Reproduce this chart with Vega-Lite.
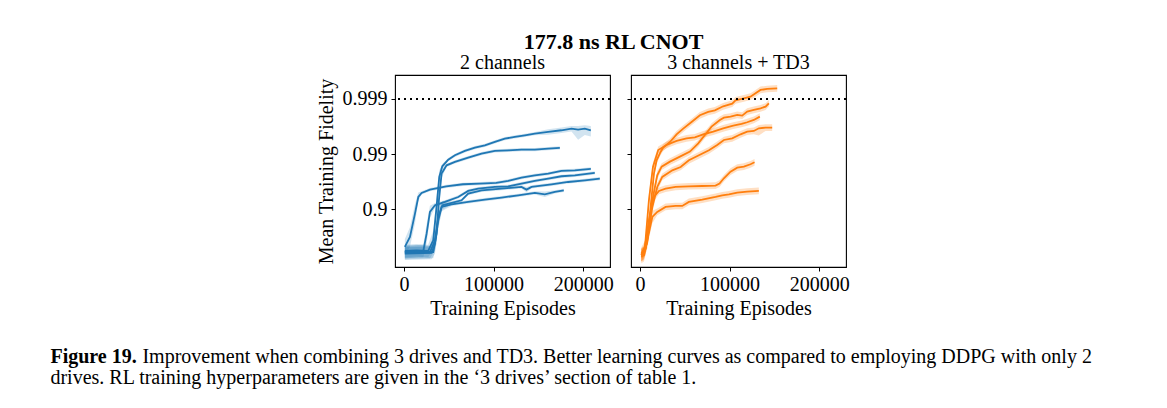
{
  "$schema": "https://vega.github.io/schema/vega-lite/v6.json",
  "background": "white",
  "padding": {"left": 50, "top": 30, "right": 5, "bottom": 5},
  "config": {
    "font": "Liberation Serif",
    "view": {"stroke": "#000000", "strokeWidth": 1.1},
    "axis": {"domain": false, "grid": false, "ticks": true, "tickColor": "#000000", "tickSize": 4, "tickWidth": 1, "labelColor": "#000000", "labelFontSize": 20, "titleFontSize": 20, "titleFontWeight": "normal", "titleColor": "#000000", "labelPadding": 3, "labelFlush": false, "labelOverlap": false, "labelBound": false},
    "title": {"fontWeight": "normal", "fontSize": 20, "color": "#000000", "font": "Liberation Serif"}
  },
  "datasets": {
    "blue": [
      {"run":"b1","ep":1000,"inf":0.569,"hi":0.74,"lo":0.438},
      {"run":"b1","ep":14000,"inf":0.553,"hi":0.719,"lo":0.425},
      {"run":"b1","ep":27000,"inf":0.569,"hi":0.74,"lo":0.438},
      {"run":"b1","ep":32700,"inf":0.364,"hi":0.546,"lo":0.243},
      {"run":"b1","ep":36400,"inf":0.0907,"hi":0.136,"lo":0.0605},
      {"run":"b1","ep":39400,"inf":0.0259,"hi":0.0337,"lo":0.0199},
      {"run":"b1","ep":42800,"inf":0.01663,"hi":0.0183,"lo":0.0151},
      {"run":"b1","ep":49400,"inf":0.0126,"hi":0.01348,"lo":0.01178},
      {"run":"b1","ep":56900,"inf":0.01051,"hi":0.01125,"lo":0.00982},
      {"run":"b1","ep":68000,"inf":0.00877,"hi":0.00938,"lo":0.0082},
      {"run":"b1","ep":79200,"inf":0.00763,"hi":0.00816,"lo":0.00713},
      {"run":"b1","ep":90300,"inf":0.00693,"hi":0.00742,"lo":0.00648},
      {"run":"b1","ep":101500,"inf":0.00603,"hi":0.00645,"lo":0.00564},
      {"run":"b1","ep":112600,"inf":0.00525,"hi":0.00562,"lo":0.00491},
      {"run":"b1","ep":123800,"inf":0.00489,"hi":0.00523,"lo":0.00457},
      {"run":"b1","ep":134900,"inf":0.00456,"hi":0.00488,"lo":0.00426},
      {"run":"b1","ep":146100,"inf":0.00426,"hi":0.00456,"lo":0.00398},
      {"run":"b1","ep":161000,"inf":0.00397,"hi":0.00445,"lo":0.00355},
      {"run":"b1","ep":175800,"inf":0.0037,"hi":0.00414,"lo":0.0033},
      {"run":"b1","ep":187000,"inf":0.00346,"hi":0.00388,"lo":0.00309},
      {"run":"b1","ep":194400,"inf":0.0036,"hi":0.0055,"lo":0.0031},
      {"run":"b1","ep":201900,"inf":0.00346,"hi":0.0045,"lo":0.003},
      {"run":"b1","ep":208600,"inf":0.0037,"hi":0.0048,"lo":0.0031},

      {"run":"b2","ep":1000,"inf":0.593,"hi":0.771,"lo":0.456},
      {"run":"b2","ep":16000,"inf":0.577,"hi":0.75,"lo":0.444},
      {"run":"b2","ep":32700,"inf":0.593,"hi":0.771,"lo":0.456},
      {"run":"b2","ep":36400,"inf":0.276,"hi":0.414,"lo":0.184},
      {"run":"b2","ep":39000,"inf":0.0687,"hi":0.103,"lo":0.0458},
      {"run":"b2","ep":42000,"inf":0.02258,"hi":0.0271,"lo":0.0188},
      {"run":"b2","ep":47600,"inf":0.01595,"hi":0.01707,"lo":0.01491},
      {"run":"b2","ep":56900,"inf":0.01388,"hi":0.01485,"lo":0.01297},
      {"run":"b2","ep":71700,"inf":0.01159,"hi":0.0124,"lo":0.01083},
      {"run":"b2","ep":86600,"inf":0.0098,"hi":0.01049,"lo":0.00916},
      {"run":"b2","ep":101500,"inf":0.00877,"hi":0.00938,"lo":0.0082},
      {"run":"b2","ep":116400,"inf":0.00853,"hi":0.00913,"lo":0.00797},
      {"run":"b2","ep":131200,"inf":0.0083,"hi":0.00888,"lo":0.00776},
      {"run":"b2","ep":146100,"inf":0.0083,"hi":0.00888,"lo":0.00776},
      {"run":"b2","ep":161000,"inf":0.00796,"hi":0.00852,"lo":0.00744},
      {"run":"b2","ep":174000,"inf":0.00774,"hi":0.00828,"lo":0.00723},

      {"run":"b3","ep":1000,"inf":0.481,"hi":0.673,"lo":0.344},
      {"run":"b3","ep":6700,"inf":0.317,"hi":0.476,"lo":0.211},
      {"run":"b3","ep":12300,"inf":0.1198,"hi":0.18,"lo":0.0799},
      {"run":"b3","ep":16000,"inf":0.0598,"hi":0.0718,"lo":0.0498},
      {"run":"b3","ep":19700,"inf":0.0506,"hi":0.0541,"lo":0.0473},
      {"run":"b3","ep":29000,"inf":0.044,"hi":0.0471,"lo":0.0411},
      {"run":"b3","ep":47200,"inf":0.0383,"hi":0.041,"lo":0.0358},
      {"run":"b3","ep":65800,"inf":0.0352,"hi":0.0377,"lo":0.0329},
      {"run":"b3","ep":84400,"inf":0.0343,"hi":0.0367,"lo":0.0321},
      {"run":"b3","ep":103000,"inf":0.0333,"hi":0.0356,"lo":0.0311},
      {"run":"b3","ep":116400,"inf":0.0307,"hi":0.0328,"lo":0.0287},
      {"run":"b3","ep":131200,"inf":0.0267,"hi":0.0286,"lo":0.025},
      {"run":"b3","ep":146100,"inf":0.0242,"hi":0.0259,"lo":0.0226},
      {"run":"b3","ep":161000,"inf":0.02258,"hi":0.02416,"lo":0.0211},
      {"run":"b3","ep":175800,"inf":0.0202,"hi":0.0216,"lo":0.0189},
      {"run":"b3","ep":190700,"inf":0.01965,"hi":0.02103,"lo":0.01836},
      {"run":"b3","ep":208600,"inf":0.0186,"hi":0.0199,"lo":0.01738},

      {"run":"b4","ep":1000,"inf":0.593,"hi":0.771,"lo":0.456},
      {"run":"b4","ep":21600,"inf":0.569,"hi":0.74,"lo":0.438},
      {"run":"b4","ep":25300,"inf":0.276,"hi":0.414,"lo":0.184},
      {"run":"b4","ep":29000,"inf":0.1117,"hi":0.145,"lo":0.0859},
      {"run":"b4","ep":34600,"inf":0.0846,"hi":0.0931,"lo":0.0769},
      {"run":"b4","ep":45700,"inf":0.0736,"hi":0.0788,"lo":0.0688},
      {"run":"b4","ep":60600,"inf":0.0598,"hi":0.064,"lo":0.0559},
      {"run":"b4","ep":71700,"inf":0.0465,"hi":0.0498,"lo":0.0435},
      {"run":"b4","ep":82900,"inf":0.0422,"hi":0.0452,"lo":0.0394},
      {"run":"b4","ep":101500,"inf":0.0394,"hi":0.0422,"lo":0.0368},
      {"run":"b4","ep":116400,"inf":0.0383,"hi":0.041,"lo":0.0358},
      {"run":"b4","ep":131200,"inf":0.0343,"hi":0.0367,"lo":0.0321},
      {"run":"b4","ep":146100,"inf":0.0307,"hi":0.0328,"lo":0.0287},
      {"run":"b4","ep":161000,"inf":0.0278,"hi":0.0297,"lo":0.026},
      {"run":"b4","ep":175800,"inf":0.0252,"hi":0.027,"lo":0.0236},
      {"run":"b4","ep":190700,"inf":0.0242,"hi":0.0259,"lo":0.0226},
      {"run":"b4","ep":213000,"inf":0.02197,"hi":0.02351,"lo":0.02053},

      {"run":"b5","ep":1000,"inf":0.618,"hi":0.803,"lo":0.475},
      {"run":"b5","ep":29000,"inf":0.601,"hi":0.781,"lo":0.462},
      {"run":"b5","ep":34600,"inf":0.364,"hi":0.546,"lo":0.243},
      {"run":"b5","ep":38300,"inf":0.1377,"hi":0.207,"lo":0.0918},
      {"run":"b5","ep":42800,"inf":0.0846,"hi":0.1015,"lo":0.0705},
      {"run":"b5","ep":53200,"inf":0.0768,"hi":0.0822,"lo":0.0718},
      {"run":"b5","ep":64300,"inf":0.0687,"hi":0.0735,"lo":0.0642},
      {"run":"b5","ep":71700,"inf":0.052,"hi":0.0556,"lo":0.0486},
      {"run":"b5","ep":86600,"inf":0.0453,"hi":0.0485,"lo":0.0423},
      {"run":"b5","ep":108900,"inf":0.0422,"hi":0.0452,"lo":0.0394},
      {"run":"b5","ep":131200,"inf":0.0394,"hi":0.0422,"lo":0.0368},
      {"run":"b5","ep":136800,"inf":0.044,"hi":0.0493,"lo":0.0393},
      {"run":"b5","ep":142400,"inf":0.0394,"hi":0.0422,"lo":0.0368},
      {"run":"b5","ep":164700,"inf":0.0352,"hi":0.0377,"lo":0.0329},
      {"run":"b5","ep":183300,"inf":0.032,"hi":0.0342,"lo":0.0299},
      {"run":"b5","ep":201900,"inf":0.0298,"hi":0.0319,"lo":0.0279},
      {"run":"b5","ep":218600,"inf":0.0278,"hi":0.0297,"lo":0.026},

      {"run":"b6","ep":1000,"inf":0.635,"hi":0.826,"lo":0.488},
      {"run":"b6","ep":30900,"inf":0.618,"hi":0.803,"lo":0.475},
      {"run":"b6","ep":34600,"inf":0.419,"hi":0.629,"lo":0.279},
      {"run":"b6","ep":38300,"inf":0.158,"hi":0.237,"lo":0.105},
      {"run":"b6","ep":42000,"inf":0.0907,"hi":0.1088,"lo":0.0756},
      {"run":"b6","ep":53200,"inf":0.0812,"hi":0.0869,"lo":0.0759},
      {"run":"b6","ep":71700,"inf":0.0736,"hi":0.0788,"lo":0.0688},
      {"run":"b6","ep":90300,"inf":0.0668,"hi":0.0715,"lo":0.0624},
      {"run":"b6","ep":108900,"inf":0.0615,"hi":0.0658,"lo":0.0575},
      {"run":"b6","ep":127500,"inf":0.0558,"hi":0.0597,"lo":0.0521},
      {"run":"b6","ep":146100,"inf":0.0506,"hi":0.0541,"lo":0.0473},
      {"run":"b6","ep":157300,"inf":0.0535,"hi":0.0599,"lo":0.0478},
      {"run":"b6","ep":168400,"inf":0.0485,"hi":0.0519,"lo":0.0453},
      {"run":"b6","ep":178400,"inf":0.0453,"hi":0.0485,"lo":0.0423}
    ],
    "orange": [
      {"run":"o1","ep":1500,"inf":0.681,"hi":0.885,"lo":0.524},
      {"run":"o1","ep":4500,"inf":0.593,"hi":0.771,"lo":0.456},
      {"run":"o1","ep":8200,"inf":0.3906,"hi":0.508,"lo":0.3},
      {"run":"o1","ep":11900,"inf":0.0907,"hi":0.118,"lo":0.0698},
      {"run":"o1","ep":15600,"inf":0.02258,"hi":0.0271,"lo":0.0188},
      {"run":"o1","ep":18600,"inf":0.01296,"hi":0.0149,"lo":0.01127},
      {"run":"o1","ep":23000,"inf":0.00915,"hi":0.01052,"lo":0.00796},
      {"run":"o1","ep":26000,"inf":0.00763,"hi":0.00877,"lo":0.00663},
      {"run":"o1","ep":33500,"inf":0.00603,"hi":0.00693,"lo":0.00524},
      {"run":"o1","ep":40900,"inf":0.00438,"hi":0.00504,"lo":0.00381},
      {"run":"o1","ep":48300,"inf":0.00346,"hi":0.00398,"lo":0.00301},
      {"run":"o1","ep":57600,"inf":0.00262,"hi":0.00301,"lo":0.00228},
      {"run":"o1","ep":66900,"inf":0.00198,"hi":0.00228,"lo":0.00172},
      {"run":"o1","ep":76200,"inf":0.001724,"hi":0.00198,"lo":0.0015},
      {"run":"o1","ep":83600,"inf":0.001609,"hi":0.00185,"lo":0.0014},
      {"run":"o1","ep":92900,"inf":0.001361,"hi":0.001565,"lo":0.001183},
      {"run":"o1","ep":103000,"inf":0.001218,"hi":0.0014,"lo":0.001059},
      {"run":"o1","ep":106700,"inf":0.00106,"hi":0.001219,"lo":0.000922},
      {"run":"o1","ep":116000,"inf":0.000975,"hi":0.001121,"lo":0.000848},
      {"run":"o1","ep":123400,"inf":0.00091,"hi":0.001047,"lo":0.000791},
      {"run":"o1","ep":129000,"inf":0.000791,"hi":0.00091,"lo":0.000688},
      {"run":"o1","ep":134600,"inf":0.000689,"hi":0.000792,"lo":0.000599},
      {"run":"o1","ep":142000,"inf":0.000661,"hi":0.00076,"lo":0.000575},
      {"run":"o1","ep":153200,"inf":0.000643,"hi":0.000739,"lo":0.000559},

      {"run":"o2","ep":1500,"inf":0.663,"hi":0.862,"lo":0.51},
      {"run":"o2","ep":4500,"inf":0.618,"hi":0.803,"lo":0.475},
      {"run":"o2","ep":9300,"inf":0.276,"hi":0.359,"lo":0.212},
      {"run":"o2","ep":13800,"inf":0.0687,"hi":0.0893,"lo":0.0528},
      {"run":"o2","ep":19300,"inf":0.0242,"hi":0.029,"lo":0.0202},
      {"run":"o2","ep":24200,"inf":0.01687,"hi":0.0194,"lo":0.01467},
      {"run":"o2","ep":33500,"inf":0.01369,"hi":0.01574,"lo":0.0119},
      {"run":"o2","ep":44600,"inf":0.01111,"hi":0.01278,"lo":0.00966},
      {"run":"o2","ep":55800,"inf":0.00902,"hi":0.01037,"lo":0.00784},
      {"run":"o2","ep":65100,"inf":0.00637,"hi":0.00733,"lo":0.00554},
      {"run":"o2","ep":72500,"inf":0.0045,"hi":0.00518,"lo":0.00391},
      {"run":"o2","ep":79900,"inf":0.00318,"hi":0.00366,"lo":0.00277},
      {"run":"o2","ep":89200,"inf":0.002407,"hi":0.00277,"lo":0.002093},
      {"run":"o2","ep":93700,"inf":0.002184,"hi":0.00251,"lo":0.0019},
      {"run":"o2","ep":101100,"inf":0.002095,"hi":0.00241,"lo":0.00182},
      {"run":"o2","ep":108600,"inf":0.001954,"hi":0.002247,"lo":0.001699},
      {"run":"o2","ep":114100,"inf":0.002009,"hi":0.00231,"lo":0.001747},
      {"run":"o2","ep":119700,"inf":0.0017,"hi":0.001955,"lo":0.001478},
      {"run":"o2","ep":127100,"inf":0.001587,"hi":0.001825,"lo":0.00138},
      {"run":"o2","ep":134600,"inf":0.00148,"hi":0.001702,"lo":0.001287},
      {"run":"o2","ep":140200,"inf":0.00138,"hi":0.001587,"lo":0.0012},
      {"run":"o2","ep":143900,"inf":0.0012,"hi":0.00138,"lo":0.001043},

      {"run":"o3","ep":1500,"inf":0.635,"hi":0.826,"lo":0.488},
      {"run":"o3","ep":5600,"inf":0.481,"hi":0.625,"lo":0.37},
      {"run":"o3","ep":10000,"inf":0.0687,"hi":0.0893,"lo":0.0528},
      {"run":"o3","ep":14500,"inf":0.0171,"hi":0.0205,"lo":0.01425},
      {"run":"o3","ep":20400,"inf":0.00842,"hi":0.00968,"lo":0.00732},
      {"run":"o3","ep":29700,"inf":0.00683,"hi":0.00785,"lo":0.00594},
      {"run":"o3","ep":40900,"inf":0.00578,"hi":0.00665,"lo":0.00503},
      {"run":"o3","ep":52000,"inf":0.00517,"hi":0.00595,"lo":0.0045},
      {"run":"o3","ep":61300,"inf":0.00496,"hi":0.0057,"lo":0.00431},
      {"run":"o3","ep":70600,"inf":0.00438,"hi":0.00504,"lo":0.00381},
      {"run":"o3","ep":81800,"inf":0.00392,"hi":0.00451,"lo":0.00341},
      {"run":"o3","ep":92900,"inf":0.00341,"hi":0.00392,"lo":0.00297},
      {"run":"o3","ep":104100,"inf":0.00305,"hi":0.00351,"lo":0.00265},
      {"run":"o3","ep":113400,"inf":0.00284,"hi":0.00327,"lo":0.00247},
      {"run":"o3","ep":119700,"inf":0.00265,"hi":0.00305,"lo":0.0023},
      {"run":"o3","ep":127100,"inf":0.002407,"hi":0.00277,"lo":0.002093},
      {"run":"o3","ep":133800,"inf":0.002095,"hi":0.00241,"lo":0.00182},

      {"run":"o4","ep":1500,"inf":0.681,"hi":0.885,"lo":0.524},
      {"run":"o4","ep":6300,"inf":0.516,"hi":0.671,"lo":0.397},
      {"run":"o4","ep":13800,"inf":0.0907,"hi":0.118,"lo":0.0698},
      {"run":"o4","ep":19300,"inf":0.0394,"hi":0.0473,"lo":0.0328},
      {"run":"o4","ep":24900,"inf":0.0259,"hi":0.0298,"lo":0.0225},
      {"run":"o4","ep":36100,"inf":0.01965,"hi":0.0226,"lo":0.01709},
      {"run":"o4","ep":45400,"inf":0.0171,"hi":0.01967,"lo":0.01487},
      {"run":"o4","ep":54600,"inf":0.01296,"hi":0.0149,"lo":0.01127},
      {"run":"o4","ep":65800,"inf":0.01051,"hi":0.01209,"lo":0.00914},
      {"run":"o4","ep":77000,"inf":0.00853,"hi":0.00981,"lo":0.00742},
      {"run":"o4","ep":86200,"inf":0.00683,"hi":0.00785,"lo":0.00594},
      {"run":"o4","ep":93700,"inf":0.00555,"hi":0.00638,"lo":0.00483},
      {"run":"o4","ep":103000,"inf":0.00517,"hi":0.00595,"lo":0.0045},
      {"run":"o4","ep":112300,"inf":0.00438,"hi":0.00504,"lo":0.00381},
      {"run":"o4","ep":119700,"inf":0.00392,"hi":0.00451,"lo":0.00341},
      {"run":"o4","ep":127100,"inf":0.00381,"hi":0.00438,"lo":0.00331},
      {"run":"o4","ep":132700,"inf":0.00341,"hi":0.0046,"lo":0.00297},
      {"run":"o4","ep":140200,"inf":0.00331,"hi":0.00381,"lo":0.00288},
      {"run":"o4","ep":147600,"inf":0.00331,"hi":0.00381,"lo":0.00288},

      {"run":"o5","ep":1500,"inf":0.681,"hi":0.885,"lo":0.524},
      {"run":"o5","ep":4500,"inf":0.635,"hi":0.826,"lo":0.488},
      {"run":"o5","ep":10000,"inf":0.158,"hi":0.205,"lo":0.1215},
      {"run":"o5","ep":15600,"inf":0.0598,"hi":0.0718,"lo":0.0498},
      {"run":"o5","ep":21200,"inf":0.0465,"hi":0.0535,"lo":0.0404},
      {"run":"o5","ep":28600,"inf":0.0422,"hi":0.0485,"lo":0.0367},
      {"run":"o5","ep":39800,"inf":0.0394,"hi":0.0453,"lo":0.0343},
      {"run":"o5","ep":54600,"inf":0.0383,"hi":0.044,"lo":0.0333},
      {"run":"o5","ep":69500,"inf":0.0378,"hi":0.0435,"lo":0.0329},
      {"run":"o5","ep":84400,"inf":0.0373,"hi":0.0429,"lo":0.0324},
      {"run":"o5","ep":88800,"inf":0.0343,"hi":0.0394,"lo":0.0298},
      {"run":"o5","ep":93700,"inf":0.0274,"hi":0.0315,"lo":0.0238},
      {"run":"o5","ep":101100,"inf":0.02077,"hi":0.02389,"lo":0.01806},
      {"run":"o5","ep":108600,"inf":0.01758,"hi":0.02022,"lo":0.01529},
      {"run":"o5","ep":116000,"inf":0.01687,"hi":0.0194,"lo":0.01467},
      {"run":"o5","ep":123400,"inf":0.0153,"hi":0.0176,"lo":0.0133},
      {"run":"o5","ep":127900,"inf":0.01408,"hi":0.01619,"lo":0.01224},

      {"run":"o6","ep":1500,"inf":0.73,"hi":0.949,"lo":0.562},
      {"run":"o6","ep":4500,"inf":0.681,"hi":0.885,"lo":0.524},
      {"run":"o6","ep":8200,"inf":0.364,"hi":0.473,"lo":0.28},
      {"run":"o6","ep":13800,"inf":0.1377,"hi":0.179,"lo":0.1059},
      {"run":"o6","ep":19300,"inf":0.1117,"hi":0.1285,"lo":0.0971},
      {"run":"o6","ep":28600,"inf":0.0907,"hi":0.1043,"lo":0.0789},
      {"run":"o6","ep":39800,"inf":0.087,"hi":0.1,"lo":0.0757},
      {"run":"o6","ep":47200,"inf":0.087,"hi":0.1,"lo":0.0757},
      {"run":"o6","ep":54600,"inf":0.0736,"hi":0.0846,"lo":0.064},
      {"run":"o6","ep":69500,"inf":0.0668,"hi":0.0768,"lo":0.0581},
      {"run":"o6","ep":84400,"inf":0.0598,"hi":0.0688,"lo":0.052},
      {"run":"o6","ep":91800,"inf":0.0558,"hi":0.0642,"lo":0.0485},
      {"run":"o6","ep":99300,"inf":0.0535,"hi":0.0615,"lo":0.0465},
      {"run":"o6","ep":108600,"inf":0.0499,"hi":0.0574,"lo":0.0434},
      {"run":"o6","ep":119700,"inf":0.0479,"hi":0.0551,"lo":0.0417},
      {"run":"o6","ep":132700,"inf":0.0465,"hi":0.0535,"lo":0.0404}
    ],
    "target": [{"inf": 0.001}]
  },
  "title": {"text": "Figure 19.", "orient": "bottom", "anchor": "start", "fontWeight": "bold", "fontSize": 20, "offset": 0, "dx": 0, "dy": -41},
  "vconcat": [
    {
      "title": {"text": "drives. RL training hyperparameters are given in the \u20183 drives\u2019 section of table 1.", "orient": "bottom", "anchor": "start", "fontSize": 20, "offset": 1, "dx": -92},
      "vconcat": [
        {
          "title": {"text": "Improvement when combining 3 drives and TD3. Better learning curves as compared to employing DDPG with only 2", "orient": "bottom", "anchor": "start", "fontSize": 20, "offset": 28, "dx": -173},
          "vconcat": [
            {
              "title": {"text": "177.8 ns RL CNOT", "anchor": "middle", "fontWeight": "bold", "fontSize": 22, "offset": -2, "dx": 31},
              "bounds": "flush",
              "spacing": 21,
              "hconcat": [
                {
                  "width": 215,
                  "height": 192,
                  "title": {"text": "2 channels", "offset": 2.5},
                  "encoding": {
                    "x": {"field": "ep", "type": "quantitative", "scale": {"domain": [-10000, 230000], "nice": false, "zero": false}, "axis": {"values": [0, 100000, 200000], "format": "d", "title": "Training Episodes", "titlePadding": 4}},
                    "y": {"field": "inf", "type": "quantitative", "scale": {"type": "log", "domain": [0.000369, 1.11], "reverse": true, "nice": false}, "axis": {"values": [0.1, 0.01, 0.001], "labelExpr": "datum.value > 0.05 ? '0.9' : datum.value > 0.005 ? '0.99' : '0.999'", "title": "Mean Training Fidelity", "titlePadding": 6, "labelPadding": 4}}
                  },
                  "layer": [
                    {"data": {"name": "blue"}, "mark": {"type": "area", "color": "#1f77b4", "opacity": 0.2}, "encoding": {"y": {"field": "hi", "type": "quantitative"}, "y2": {"field": "lo"}, "detail": {"field": "run"}}},
                    {"data": {"name": "blue"}, "mark": {"type": "line", "color": "#1f77b4", "strokeWidth": 1.8}, "encoding": {"detail": {"field": "run"}}},
                    {"data": {"name": "target"}, "mark": {"type": "rule", "color": "#000000", "strokeWidth": 2, "strokeDash": [2, 4]}, "encoding": {"x": null}}
                  ]
                },
                {
                  "width": 215,
                  "height": 192,
                  "title": {"text": "3 channels + TD3", "offset": 2.5},
                  "encoding": {
                    "x": {"field": "ep", "type": "quantitative", "scale": {"domain": [-10000, 230000], "nice": false, "zero": false}, "axis": {"values": [0, 100000, 200000], "format": "d", "title": "Training Episodes", "titlePadding": 4}},
                    "y": {"field": "inf", "type": "quantitative", "scale": {"type": "log", "domain": [0.000369, 1.11], "reverse": true, "nice": false}, "axis": {"values": [0.1, 0.01, 0.001], "labels": false, "title": null}}
                  },
                  "layer": [
                    {"data": {"name": "orange"}, "mark": {"type": "area", "color": "#ff7f0e", "opacity": 0.25}, "encoding": {"y": {"field": "hi", "type": "quantitative"}, "y2": {"field": "lo"}, "detail": {"field": "run"}}},
                    {"data": {"name": "orange"}, "mark": {"type": "line", "color": "#ff7f0e", "strokeWidth": 1.8}, "encoding": {"detail": {"field": "run"}}},
                    {"data": {"name": "target"}, "mark": {"type": "rule", "color": "#000000", "strokeWidth": 2, "strokeDash": [2, 4]}, "encoding": {"x": null}}
                  ]
                }
              ]
            }
          ]
        }
      ]
    }
  ]
}
